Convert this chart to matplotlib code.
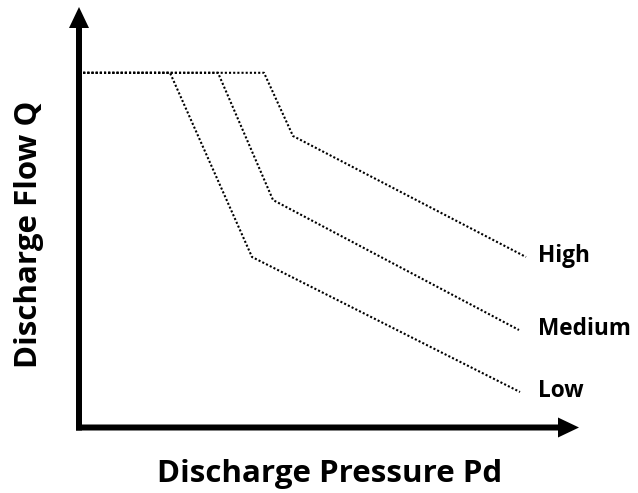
import matplotlib
matplotlib.use("Agg")
import matplotlib.pyplot as plt

plt.rcParams["font.family"] = ["Open Sans", "DejaVu Sans"]

# ---- Data (arbitrary units) ----
low_x = [0, 91, 173, 441]
low_y = [354.7, 354.7, 170.5, 35.5]
medium_x = [0, 139, 194, 440]
medium_y = [354.7, 354.7, 227.5, 97.5]
high_x = [0, 185, 214, 447]
high_y = [354.7, 354.7, 291.5, 170.5]
curve_names = ["Low", "Medium", "High"]

fig = plt.figure(figsize=(6.38, 4.93), dpi=100)
ax = fig.add_axes([79 / 638, 65.5 / 493, 500 / 638, 420.5 / 493])
ax.set_xlim(0, 500)
ax.set_ylim(0, 420.5)
ax.axis("off")

dot = (0, (1, 1.0))
curves = [(low_x, low_y), (medium_x, medium_y), (high_x, high_y)]
for name, (xs, ys) in zip(curve_names, curves):
    ax.plot(xs, ys, color="black", lw=1.5, linestyle=dot, clip_on=False)
    ax.text(459, ys[-1] - 5, name, fontsize=16.3, fontweight="bold",
            va="baseline", ha="left")

# ---- Axes arrows ----
arrow_kw = dict(width=6, head_width=20, head_length=21, length_includes_head=True,
                fc="black", ec="none", lw=0, clip_on=False)
ax.arrow(0, -3, 0, 423.5, **arrow_kw)
ax.arrow(-3, 0, 503, 0, **arrow_kw)

fig.text(330 / 638, 1 - 482 / 493, "Discharge Pressure Pd", fontsize=22.5,
         fontweight="bold", ha="center", va="baseline")
fig.text(37 / 638, 1 - 234.5 / 493, "Discharge Flow Q", fontsize=22.5,
         fontweight="bold", ha="center", va="baseline", rotation=90,
         rotation_mode="anchor")

fig.savefig("out.png", dpi=100)
plt.close(fig)
